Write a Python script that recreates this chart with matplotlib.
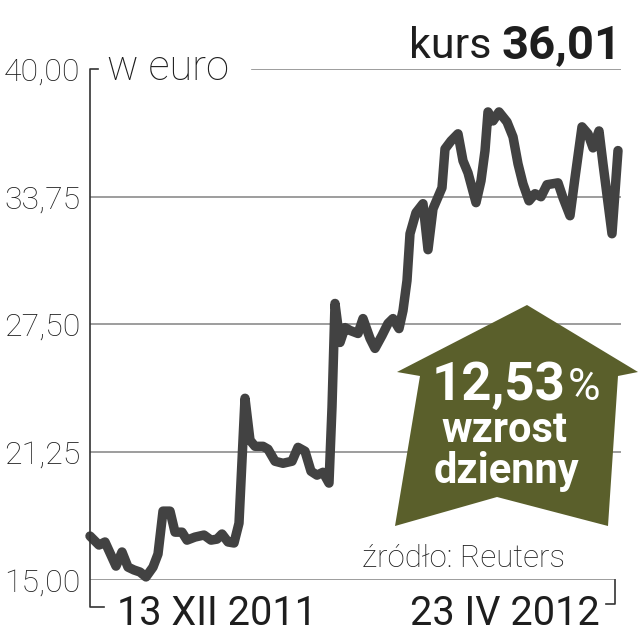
import matplotlib
matplotlib.use('Agg')
import matplotlib.pyplot as plt
from matplotlib.patches import Polygon
from matplotlib.lines import Line2D

# ---- data ----
days = [0, 2.25, 3.75, 6.5, 8, 9.5, 11, 12.5, 14, 15.75, 17, 18.25, 20, 21.25, 23,
        24.25, 26.25, 28.5, 30.25, 31.75, 33, 34.5, 36, 37.25, 38.75, 40, 41.25,
        43.25, 44.5, 46.25, 48.25, 50.5, 52, 53.75, 55.25, 56.75, 58.25, 59.75,
        60.5, 61.25, 62.5, 63.75, 65, 67, 68.25, 70, 71.25, 73, 74.5, 75.75, 77.25,
        78.25, 79.25, 80, 81.5, 83.25, 84.5, 85.75, 88, 88.75, 90.25, 92, 93.25,
        94.5, 96.5, 97.75, 98.75, 99.5, 100.75, 102.25, 104.25, 105.75, 107, 108.25,
        109.75, 111.25, 112.75, 114.25, 117, 118.25, 120, 121.25, 123, 124.5, 125.75,
        127.25, 128.25, 130.5, 132]
prices = [17.15, 16.71, 16.86, 15.68, 16.37, 15.63, 15.49, 15.39, 15.15, 15.63, 16.27,
          18.37, 18.37, 17.34, 17.34, 16.95, 17.10, 17.20, 16.95, 17.00, 17.25, 16.86,
          16.81, 17.78, 23.89, 21.84, 21.54, 21.54, 21.40, 20.81, 20.71, 20.81, 21.49,
          21.30, 20.32, 20.13, 20.27, 19.74, 23.45, 28.53, 26.62, 27.35, 27.21, 27.06,
          27.79, 26.82, 26.33, 26.96, 27.55, 27.79, 27.30, 28.18, 29.65, 31.94, 32.97,
          33.41, 31.16, 33.16, 34.19, 36.09, 36.48, 36.83, 35.51, 34.92, 33.46, 34.53,
          36.00, 37.90, 37.46, 37.90, 37.41, 36.68, 35.36, 34.38, 33.55, 33.90, 33.75,
          34.34, 34.43, 33.70, 32.82, 34.68, 37.17, 36.83, 36.14, 36.97, 35.36, 31.94,
          36.01]
y_ticks = [15.00, 21.25, 27.50, 33.75, 40.00]
y_tick_labels = ["15,00", "21,25", "27,50", "33,75", "40,00"]
x_labels = ["13 XII 2011", "23 IV 2012"]
unit_label = "w euro"
price_word = "kurs"
last_price = "36,01"
change_value = "12,53"
change_words = ["wzrost", "dzienny"]
source_label = "źródło: Reuters"

# ---- layout helpers (pixel -> figure fraction) ----
W = H = 640
def fx(px):
    return px / W
def fy(py):
    return 1 - py / H

LINE_C = '#424242'
GRID_C = '#8c8c8c'
AXIS_C = '#333333'
TEXT_C = '#1e1e1e'
OLIVE = '#5a5f2b'
FONT = 'Roboto'

fig = plt.figure(figsize=(6.4, 6.4), dpi=100)
ax = fig.add_axes([fx(90), fy(580), (621 - 90) / W, (580 - 69) / H])
ax.set_xlim(0, 132.75)
ax.set_ylim(15, 40)
for s in ax.spines.values():
    s.set_visible(False)
ax.set_xticks([])
ax.set_yticks(y_ticks)
ax.set_yticklabels(y_tick_labels)
ax.tick_params(axis='y', length=0, pad=7, labelsize=23, labelcolor=TEXT_C)
for lab in ax.get_yticklabels():
    lab.set_fontfamily(FONT)
    lab.set_fontweight('light')

# gridlines
for v in y_ticks:
    if v == y_ticks[-1]:
        ax.axhline(v, xmin=0.305, xmax=1.0, color=GRID_C, lw=1.2, zorder=1)
    elif v == y_ticks[0]:
        ax.axhline(v, xmin=0.0, xmax=0.989, color=GRID_C, lw=1.2, zorder=1)
    else:
        ax.axhline(v, xmin=0.0, xmax=1.0, color=GRID_C, lw=1.2, zorder=1)

# price line
ax.plot(days, prices, color=LINE_C, lw=6.8, solid_joinstyle='round',
        solid_capstyle='round', zorder=3, clip_on=False)

# axis bracket decorations
def fline(xs, ys, **kw):
    fig.add_artist(Line2D([fx(x) for x in xs], [fy(y) for y in ys],
                          color=AXIS_C, lw=1.2, **kw))
fline([98, 90, 90, 104], [69, 69, 607, 607])
fline([615, 615, 606], [580, 604, 604])

# unit label
fig.text(fx(107), fy(80), unit_label, ha='left', va='baseline', fontsize=30,
         family=FONT, fontweight='light', color=TEXT_C)

# header
fig.text(fx(622), fy(58), last_price, ha='right', va='baseline', fontsize=34,
         family=FONT, fontweight='bold', color=TEXT_C)
fig.text(fx(492), fy(58), price_word, ha='right', va='baseline', fontsize=31,
         family=FONT, color=TEXT_C)

# date labels
fig.text(fx(117), fy(625), x_labels[0], ha='left', va='baseline', fontsize=28.5,
         family=FONT, color=TEXT_C)
fig.text(fx(600), fy(625), x_labels[1], ha='right', va='baseline', fontsize=28.5,
         family=FONT, color=TEXT_C)

# source
fig.text(fx(362), fy(567), source_label, ha='left', va='baseline', fontsize=22.5,
         family=FONT, fontweight='light', color=TEXT_C)

# arrow
arrow_px = [(527, 305), (638, 372), (618, 376), (608, 526), (497, 497),
            (395, 526), (420, 376), (397, 372)]
fig.add_artist(Polygon([(fx(x), fy(y)) for x, y in arrow_px], closed=True,
                       facecolor=OLIVE, edgecolor='none', zorder=4))
fig.text(fx(566), fy(400), change_value, ha='right', va='baseline', fontsize=38,
         family=FONT, fontweight='bold', color='white', zorder=5)
fig.text(fx(568), fy(400), '%', ha='left', va='baseline', fontsize=32,
         family=FONT, color='white', zorder=5)
fig.text(fx(504), fy(442), change_words[0], ha='center', va='baseline', fontsize=30,
         family=FONT, fontweight='bold', color='white', zorder=5)
fig.text(fx(506), fy(483), change_words[1], ha='center', va='baseline', fontsize=30,
         family=FONT, fontweight='bold', color='white', zorder=5)

fig.savefig('out.png', dpi=100)
